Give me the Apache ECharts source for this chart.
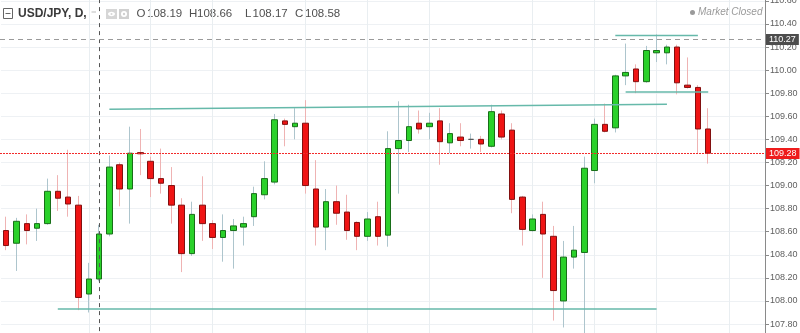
<!DOCTYPE html>
<html><head><meta charset="utf-8">
<script src="https://cdn.jsdelivr.net/npm/echarts@6/dist/echarts.min.js"></script>
<style>html,body{margin:0;padding:0;background:#fff}#c{width:800px;height:333px}</style>
</head><body><div id="c"></div>
<script>
// ---- data ----
const symbolTitle = 'USD/JPY, D,';
const marketStatus = 'Market Closed';
const categories = Array.from({length: 74}, (_, i) => 'D' + (i + 1)); // 69 candles + empty right margin slots

const opens = [108.61,108.50,108.67,108.63,108.67,108.95,108.90,108.83,108.06,108.19,
108.58,109.18,108.97,109.285,109.21,109.06,109.00,108.83,108.41,108.83,
108.67,108.55,108.61,108.64,108.73,108.92,109.03,109.56,109.51,109.54,
108.97,108.64,108.86,108.77,108.68,108.56,108.73,108.57,109.32,109.39,
109.54,109.51,109.56,109.37,109.42,109.40,109.40,109.34,109.62,109.48,
108.90,108.61,108.75,108.56,108.00,108.38,108.42,109.13,109.53,109.50,
109.95,110.01,109.90,110.15,110.15,110.20,109.87,109.85,109.49];

const closes = [108.48,108.69,108.61,108.67,108.95,108.89,108.84,108.03,108.19,108.58,
109.16,108.97,109.28,109.275,109.06,109.02,108.83,108.41,108.75,108.67,
108.55,108.61,108.65,108.67,108.93,109.06,109.57,109.53,109.54,109.00,
108.64,108.86,108.76,108.61,108.56,108.71,108.56,109.32,109.39,109.51,
109.49,109.54,109.38,109.45,109.39,109.40,109.36,109.64,109.42,108.88,
108.62,108.71,108.58,108.09,108.38,108.44,109.15,109.53,109.47,109.95,
109.98,109.90,110.17,110.17,110.20,109.89,109.85,109.49,109.28];

const lows = [108.44,108.26,108.49,108.52,108.66,108.78,108.73,107.92,107.90,108.17,
108.56,108.82,108.67,109.09,108.90,108.93,108.67,108.25,108.39,108.52,
108.45,108.34,108.28,108.48,108.65,108.88,109.01,109.34,109.40,108.93,
108.48,108.44,108.66,108.53,108.44,108.52,108.48,108.47,108.93,109.29,
109.45,109.40,109.18,109.28,109.34,109.32,109.29,109.33,109.40,108.76,
108.48,108.60,108.20,107.83,107.77,108.28,107.68,109.02,109.46,109.46,
109.87,109.80,109.89,110.07,110.05,109.79,109.84,109.28,109.19];

const highs = [108.73,108.72,108.75,108.80,109.06,109.09,109.31,108.91,108.33,108.66,
109.26,109.20,109.51,109.49,109.25,109.32,109.16,108.89,108.86,109.08,
108.70,108.75,108.71,108.73,108.99,109.21,109.62,109.58,109.67,109.74,
109.22,108.97,109.00,108.92,108.69,108.77,108.86,109.47,109.73,109.70,
109.65,109.63,109.67,109.54,109.54,109.45,109.43,109.70,109.65,109.54,
108.91,108.75,108.86,108.65,108.52,108.65,109.25,109.58,109.71,109.96,
110.23,110.05,110.21,110.31,110.22,110.22,110.11,109.87,109.67];

const crosshairIndex = 9;                 // candle under the crosshair (header OHLC)
const ohlcLetters = ['O', 'H', 'L', 'C'];
const vGridIdx = [8, 14, 20, 29, 35, 41, 51, 57, 63, 70];
const highLineValue = 110.27;             // grey dashed line
const lastPriceValue = 109.28;            // red dotted line
// trend lines: [startIndex, startValue, endIndex, endValue]
const trendLines = [
  [10, 109.66, 64, 109.705],
  [5, 107.93, 63, 107.93],
  [59, 110.30, 67, 110.30],
  [60, 109.81, 68, 109.81]
];
const yMin = 107.6, yMax = 110.8, yStep = 0.2;

// ---- build ----
const FONT = '"Liberation Sans", Arial, sans-serif';
const GRID_LEFT = 1, GRID_RIGHT = 35, W = 800;
const wickData = opens.map((o, i) => [o, closes[i], lows[i], highs[i]]);
const bodyData = opens.map((o, i) => {
  const c = closes[i];
  const item = { value: [o, c, Math.min(o, c), Math.max(o, c)] };
  if (o === c) item.itemStyle = { borderColor: '#555', borderColor0: '#555', borderColorDoji: '#555' };
  return item;
});
const ohlcValues = [opens[crosshairIndex], highs[crosshairIndex], lows[crosshairIndex], closes[crosshairIndex]];

const trendSeries = trendLines.map(t => ({
  type: 'line', data: [[t[0], t[1]], [t[2], t[3]]], symbol: 'none', silent: true, z: 4,
  lineStyle: { color: '#66b9aa', width: 1.5 }, animation: false
}));

const chart = echarts.init(document.getElementById('c'), null, { renderer: 'canvas' });
chart.setOption({
  animation: false,
  backgroundColor: '#ffffff',
  grid: { left: GRID_LEFT, right: GRID_RIGHT, top: -22.2, bottom: -14.1, containLabel: false, outerBoundsMode: 'none' },
  xAxis: {
    type: 'category', data: categories, boundaryGap: true,
    axisLine: { show: false }, axisTick: { show: false }, axisLabel: { show: false }, splitLine: { show: false }
  },
  yAxis: {
    type: 'value', position: 'right', min: yMin, max: yMax, interval: yStep, scale: true,
    axisLine: { show: true, lineStyle: { color: '#8a8a8a' } },
    axisTick: { show: true, length: 4, lineStyle: { color: '#8a8a8a' } },
    axisLabel: { margin: 5, color: '#606060', fontSize: 9, fontFamily: FONT, formatter: v => v.toFixed(2) },
    splitLine: { show: true, lineStyle: { color: '#eef1f4', width: 1 } }
  },
  series: [
    {
      type: 'candlestick', name: 'wicks', data: wickData, barWidth: 1, silent: true,
      itemStyle: { color: '#adc5cd', color0: '#efb3b3', borderColor: '#adc5cd', borderColor0: '#efb3b3', borderColorDoji: '#adc5cd', borderWidth: 1 },
      markLine: {
        silent: true, z: 1, symbol: ['none', 'none'], label: { show: false },
        lineStyle: { color: '#e9eef1', type: 'solid', width: 1 },
        data: vGridIdx.map(i => ({ xAxis: i }))
      }
    },
    {
      type: 'candlestick', name: 'USD/JPY', data: bodyData, barWidth: 6, silent: true,
      itemStyle: { color: '#2ad12a', color0: '#ef1414', borderColor: '#186e18', borderColor0: '#821010', borderColorDoji: '#555', borderWidth: 1 },
      markLine: {
        silent: true, symbol: ['none', 'none'], label: { show: false },
        lineStyle: { color: '#555', type: [4, 4], width: 1 },
        data: [{ xAxis: crosshairIndex }]
      }
    }
  ].concat(trendSeries)
});

// price lines + their axis boxes, placed through the y axis scale
const yHigh = Math.round(chart.convertToPixel({ yAxisIndex: 0 }, highLineValue)) + 0.5;
const yLast = Math.round(chart.convertToPixel({ yAxisIndex: 0 }, lastPriceValue)) + 0.5;
const xR = W - GRID_RIGHT;
const box = (y, v, bg) => ({ type: 'text', z: 20, style: { x: xR + 1, y: y, text: v.toFixed(2), font: '9px ' + FONT, lineHeight: 9, fill: '#fff', backgroundColor: bg, padding: [1, 3, 1, 3], verticalAlign: 'middle' } });

const ohlcX = [[136.5, 147], [189, 197], [245, 252.5], [295, 305]];
const headerOhlc = [];
ohlcLetters.forEach((L, k) => {
  headerOhlc.push({ type: 'text', style: { x: ohlcX[k][0], y: 13.5, text: L, font: '11.5px ' + FONT, fill: '#505050', verticalAlign: 'middle' } });
  headerOhlc.push({ type: 'text', style: { x: ohlcX[k][1], y: 13.5, text: ohlcValues[k].toFixed(2), font: '11.5px ' + FONT, fill: '#505050', verticalAlign: 'middle' } });
});

chart.setOption({
  graphic: [
    { type: 'line', z: 10, shape: { x1: GRID_LEFT - 1, y1: yHigh, x2: xR, y2: yHigh }, style: { stroke: '#9a9a9a', lineWidth: 1, lineDash: [5, 4] } },
    { type: 'line', z: 10, shape: { x1: GRID_LEFT - 1, y1: yLast, x2: xR, y2: yLast }, style: { stroke: '#f22a2a', lineWidth: 1, lineDash: [2, 1] } },
    box(yHigh, highLineValue, '#4d4d4d'),
    box(yLast, lastPriceValue, '#ee1c1c'),
    { type: 'rect', shape: { x: 3.5, y: 8.5, width: 9, height: 10 }, style: { fill: '#fff', stroke: '#666', lineWidth: 1 } },
    { type: 'line', shape: { x1: 5.5, y1: 13.5, x2: 10.5, y2: 13.5 }, style: { stroke: '#666', lineWidth: 1 } },
    { type: 'text', style: { x: 18, y: 13.5, text: symbolTitle, font: 'bold 12px ' + FONT, fill: '#3a3a3a', verticalAlign: 'middle' } },
    { type: 'line', shape: { x1: 91.5, y1: 12, x2: 96, y2: 12 }, style: { stroke: '#bbb', lineWidth: 1 } },
    { type: 'rect', shape: { x: 106, y: 9, width: 11, height: 10 }, style: { fill: '#d6d6d6' } },
    { type: 'ellipse', shape: { cx: 111.5, cy: 14, rx: 3.5, ry: 2.2 }, style: { fill: '#fff' } },
    { type: 'circle', shape: { cx: 111.5, cy: 14, r: 1 }, style: { fill: '#d6d6d6' } },
    { type: 'rect', shape: { x: 119, y: 9, width: 10, height: 10 }, style: { fill: '#d0d0d0' } },
    { type: 'circle', shape: { cx: 124, cy: 14, r: 3 }, style: { fill: '#fff' } },
    { type: 'circle', shape: { cx: 124, cy: 14, r: 1.2 }, style: { fill: '#d0d0d0' } }
  ].concat(headerOhlc).concat([
    { type: 'circle', shape: { cx: 692.5, cy: 12.5, r: 2.5 }, style: { fill: '#9a9a9a' } },
    { type: 'text', style: { x: 698, y: 12.5, text: marketStatus, font: 'italic 10px ' + FONT, fill: '#9a9a9a', verticalAlign: 'middle' } }
  ])
});
</script>
</body></html>
